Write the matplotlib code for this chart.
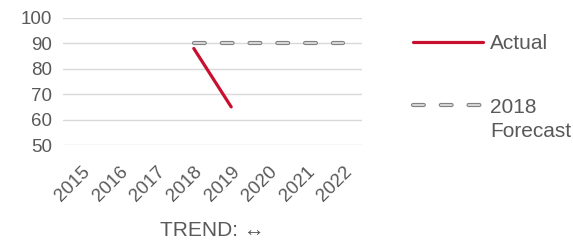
import matplotlib
matplotlib.use("Agg")
import matplotlib.pyplot as plt
import matplotlib.transforms as mtransforms

# ── data ──
years    = ["2015", "2016", "2017", "2018", "2019", "2020", "2021", "2022"]
actual_years  = ["2018", "2019"]
actual_values = [88, 65]
forecast_years  = ["2018", "2019", "2020", "2021", "2022"]
forecast_values = [90, 90, 90, 90, 90]
y_ticks = [50, 60, 70, 80, 90, 100]

plt.rcParams["font.family"] = ["Liberation Sans", "DejaVu Sans"]
plt.rcParams["lines.scale_dashes"] = False

GREY_TXT = "#595959"
RED      = "#C8102E"

fig = plt.figure(figsize=(5.73, 2.41), dpi=100)
ax  = fig.add_axes([63 / 573, 1 - 145 / 241, 299 / 573, 127 / 241])

xpos = {y: i for i, y in enumerate(years)}

# actual
ax.plot([xpos[y] for y in actual_years], actual_values, color=RED, lw=2.3,
        solid_capstyle="round", zorder=4, label="Actual")

# forecast: outlined dash (dark outline + light fill)
fx = [xpos[y] for y in forecast_years]
dash = (0, (7.8, 12.2))
outer, = ax.plot(fx, forecast_values, color="#7f7f7f", lw=3.0, linestyle=dash,
                 dash_capstyle="round", zorder=3)
inner, = ax.plot(fx, forecast_values, color="#d4d4d4", lw=1.5, linestyle=dash,
                 dash_capstyle="round", zorder=3)

ax.set_xlim(-0.5, len(years) - 0.5)
ax.set_ylim(50, 100)
ax.set_yticks(y_ticks)
ax.set_xticks(range(len(years)))
ax.set_xticklabels(years, rotation=45, ha="right", rotation_mode="anchor")
shift = mtransforms.ScaledTranslation(-0.05, 0, fig.dpi_scale_trans)
for lbl in ax.get_xticklabels():
    lbl.set_transform(lbl.get_transform() + shift)
ax.grid(axis="y", color="#d9d9d9", lw=1.0)
ax.set_axisbelow(True)
for s in ax.spines.values():
    s.set_visible(False)
ax.tick_params(axis="both", length=0, labelsize=13.5, labelcolor=GREY_TXT)
ax.tick_params(axis="y", pad=8)
ax.tick_params(axis="x", pad=13)

ax.set_xlabel("TREND: \u2194", fontsize=15, color=GREY_TXT, labelpad=11.5)

# legend: second entry's extra line is added beneath its label
handles = [ax.lines[0], (outer, inner)]
labels  = ["Actual", "2018"]
leg = fig.legend(handles, labels, loc="upper left",
                 bbox_to_anchor=(413 / 573, 1 - 34 / 241),
                 frameon=False, fontsize=15, handlelength=3.35,
                 handletextpad=0.35, labelspacing=2.15, borderpad=0,
                 borderaxespad=0)
for t in leg.get_texts():
    t.set_color(GREY_TXT)

fig.canvas.draw()
bb = leg.get_texts()[1].get_window_extent().transformed(fig.transFigure.inverted())
fig.text(bb.x0, bb.y0 - 5 / 241, "Forecast", fontsize=15, color=GREY_TXT,
         ha="left", va="top")

fig.savefig("out.png", dpi=100)
